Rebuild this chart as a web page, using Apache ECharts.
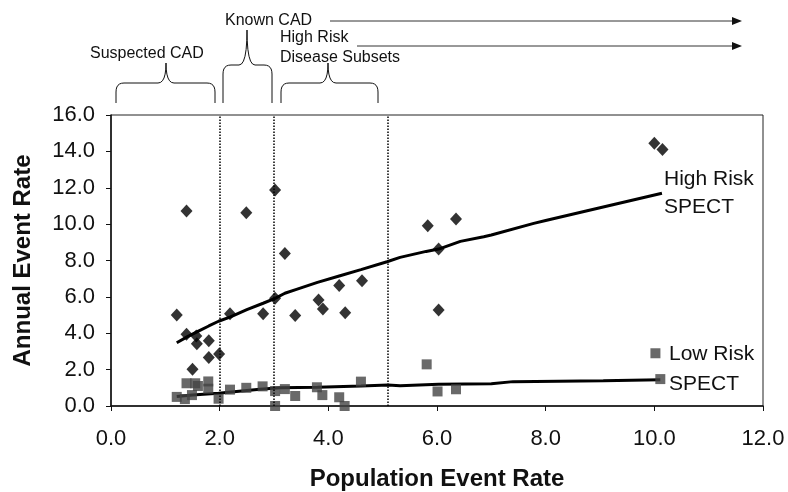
<!DOCTYPE html>
<html>
<head>
<meta charset="utf-8">
<script src="https://cdn.jsdelivr.net/npm/echarts@6/dist/echarts.min.js"></script>
<style>
html, body { margin: 0; padding: 0; background: #fff; }
#chart { width: 788px; height: 492px; }
</style>
</head>
<body>
<div id="chart"></div>
<script>
// high risk SPECT points [population rate, annual rate]
var highRisk = [
    [1.21, 5.0], [1.39, 10.72], [1.39, 3.94], [1.57, 3.85], [1.58, 3.42], [1.5, 2.02],
    [1.8, 3.59], [1.8, 2.67], [1.99, 2.86], [2.19, 5.07], [2.49, 10.63], [2.8, 5.07],
    [3.02, 11.87], [3.02, 5.92], [3.2, 8.39], [3.39, 4.97], [3.82, 5.83], [3.9, 5.33],
    [4.2, 6.62], [4.31, 5.13], [4.62, 6.89], [5.83, 9.91], [6.03, 8.63], [6.03, 5.28],
    [6.35, 10.28], [10.0, 14.45], [10.15, 14.1]
];
// low risk SPECT points
var lowRisk = [
    [1.21, 0.5], [1.36, 0.38], [1.39, 1.25], [1.49, 0.6], [1.55, 1.25], [1.6, 1.1],
    [1.79, 1.35], [1.79, 0.95], [1.98, 0.4], [2.19, 0.9], [2.49, 1.0], [2.79, 1.08],
    [3.02, 0.82], [3.02, 0.0], [3.2, 0.93], [3.39, 0.55], [3.79, 1.03], [3.89, 0.6],
    [4.2, 0.48], [4.3, 0.0], [4.6, 1.34], [5.81, 2.29], [6.01, 0.8], [6.35, 0.92],
    [10.02, 2.9], [10.11, 1.48]
];
// fitted trend lines
var highFit = [
    [1.21, 3.48], [1.4, 3.8], [1.6, 4.1], [1.8, 4.4], [1.98, 4.66], [2.2, 4.9], [2.5, 5.3],
    [2.8, 5.65], [3.02, 5.92], [3.2, 6.2], [3.4, 6.4], [3.8, 6.8], [4.2, 7.15], [4.6, 7.5],
    [5.08, 7.93], [5.32, 8.17], [5.8, 8.5], [6.03, 8.63], [6.43, 9.05], [6.86, 9.31],
    [7.0, 9.4], [7.78, 10.04], [8.0, 10.2], [9.0, 10.9], [10.14, 11.7]
];
var lowFit = [
    [1.21, 0.52], [1.5, 0.6], [1.98, 0.7], [2.5, 0.85], [2.74, 0.92], [3.11, 1.0],
    [3.8, 1.03], [4.6, 1.1], [5.1, 1.15], [5.32, 1.12], [6.03, 1.19], [7.0, 1.22],
    [7.4, 1.34], [9.06, 1.39], [10.11, 1.45]
];
var cutLines = [2.0, 3.0, 5.1];

var font = "'Liberation Sans', Arial, sans-serif";
var myChart = echarts.init(document.getElementById('chart'));

// curly bracket as a polyline: legs down to y=103, rounded corners, a peak in the middle
function quad(p0, c, p1, out) {
    for (var i = 1; i <= 6; i++) {
        var t = i / 6, u = 1 - t;
        out.push([u * u * p0[0] + 2 * u * t * c[0] + t * t * p1[0],
                  u * u * p0[1] + 2 * u * t * c[1] + t * t * p1[1]]);
    }
}
function bracket(x1, x2, yH, peakX, peakY) {
    var pts = [[x1, 103], [x1, yH + 9]];
    quad([x1, yH + 9], [x1, yH], [x1 + 8, yH], pts);
    pts.push([peakX - 8, yH]);
    quad([peakX - 8, yH], [peakX, yH], [peakX, peakY], pts);
    quad([peakX, peakY], [peakX, yH], [peakX + 8, yH], pts);
    pts.push([x2 - 8, yH]);
    quad([x2 - 8, yH], [x2, yH], [x2, yH + 9], pts);
    pts.push([x2, 103]);
    return { type: 'polyline', shape: { points: pts }, style: { fill: null, stroke: '#111', lineWidth: 1 } };
}

var option = {
    backgroundColor: '#fff',
    animation: false,
    textStyle: { fontFamily: font, color: '#111' },
    grid: {
        left: 111, top: 115, right: 25, bottom: 86,
        outerBoundsMode: 'none', containLabel: false,
        show: true, borderColor: '#222', borderWidth: 1
    },
    xAxis: {
        type: 'value', min: 0, max: 12, interval: 2,
        name: 'Population Event Rate', nameLocation: 'middle', nameGap: 61,
        nameTextStyle: { fontSize: 24, fontWeight: 'bold', color: '#111' },
        axisLine: { lineStyle: { color: '#111', width: 1.5 } },
        axisTick: { show: true, length: 5, lineStyle: { color: '#111' } },
        axisLabel: { fontSize: 22, color: '#111', margin: 22,
            formatter: function (v) { return v.toFixed(1); } },
        splitLine: { show: false }
    },
    yAxis: {
        type: 'value', min: 0, max: 16, interval: 2,
        name: 'Annual Event Rate', nameLocation: 'middle', nameGap: 76,
        nameTextStyle: { fontSize: 24, fontWeight: 'bold', color: '#111' },
        axisLine: { show: true, lineStyle: { color: '#111', width: 1.5 } },
        axisTick: { show: true, length: 5, lineStyle: { color: '#111' } },
        axisLabel: { fontSize: 22, color: '#111', margin: 16,
            formatter: function (v) { return v.toFixed(1); } },
        splitLine: { show: false }
    },
    series: [
        {
            name: 'High Risk SPECT fit', type: 'line', data: highFit,
            showSymbol: false, lineStyle: { color: '#000', width: 3 }, z: 3,
            markLine: {
                silent: true, symbol: ['none', 'none'],
                label: { show: false },
                lineStyle: { color: '#000', type: 'dotted', width: 1.5 },
                data: cutLines.map(function (v) { return { xAxis: v }; })
            }
        },
        {
            name: 'Low Risk SPECT fit', type: 'line', data: lowFit,
            showSymbol: false, lineStyle: { color: '#000', width: 3 }, z: 3
        },
        {
            name: 'High Risk SPECT', type: 'scatter', data: highRisk,
            symbol: 'diamond', symbolSize: [12, 13],
            itemStyle: { color: '#000' }, z: 4
        },
        {
            name: 'Low Risk SPECT', type: 'scatter', data: lowRisk,
            symbol: 'rect', symbolSize: 10,
            itemStyle: { color: '#444' }, z: 4
        }
    ],
    graphic: [
        bracket(116, 215, 83, 166, 63),
        bracket(223, 272, 65, 247, 30),
        bracket(281, 378, 83, 328, 63),
        { type: 'text', left: 90, top: 46, style: { text: 'Suspected CAD', fontSize: 16, fontFamily: font, fill: '#111' } },
        { type: 'text', left: 225, top: 13, style: { text: 'Known CAD', fontSize: 16, fontFamily: font, fill: '#111' } },
        { type: 'text', left: 280, top: 30, style: { text: 'High Risk', fontSize: 16, fontFamily: font, fill: '#111' } },
        { type: 'text', left: 280, top: 50, style: { text: 'Disease Subsets', fontSize: 16, fontFamily: font, fill: '#111' } },
        { type: 'line', shape: { x1: 330, y1: 21, x2: 734, y2: 21 }, style: { stroke: '#333', lineWidth: 1 } },
        { type: 'polygon', shape: { points: [[732, 17], [742, 21], [732, 25]] }, style: { fill: '#111' } },
        { type: 'line', shape: { x1: 357, y1: 46, x2: 734, y2: 46 }, style: { stroke: '#333', lineWidth: 1 } },
        { type: 'polygon', shape: { points: [[732, 42], [742, 46], [732, 50]] }, style: { fill: '#111' } },
        { type: 'text', left: 664, top: 165, style: { text: 'High Risk\nSPECT', fontSize: 21, lineHeight: 28, fontFamily: font, fill: '#111' } },
        { type: 'text', left: 669, top: 339, style: { text: 'Low Risk\nSPECT', fontSize: 21, lineHeight: 30, fontFamily: font, fill: '#111' } }
    ]
};
myChart.setOption(option);
</script>
</body>
</html>
